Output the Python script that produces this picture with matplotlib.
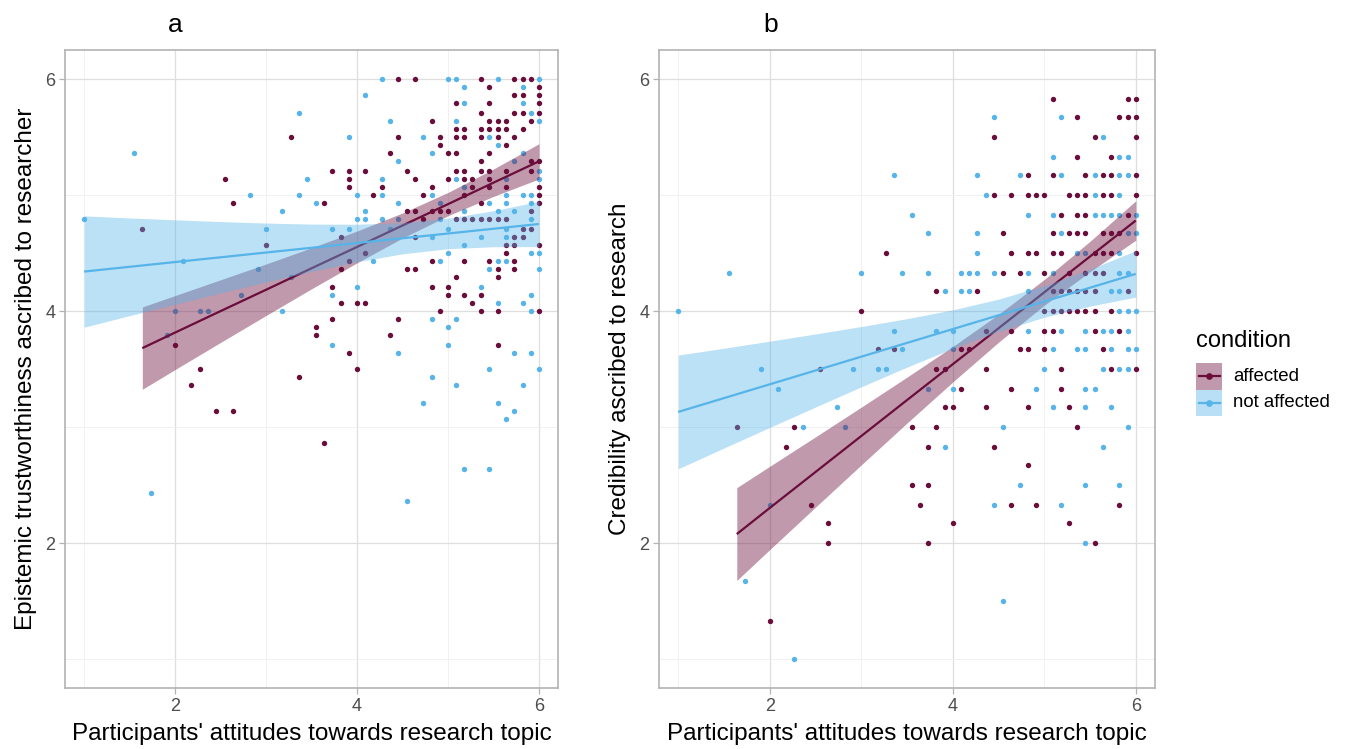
import matplotlib
matplotlib.use("Agg")
import matplotlib.pyplot as plt
from matplotlib.patches import Rectangle
from matplotlib.lines import Line2D

plt.rcParams['font.family'] = ['Liberation Sans', 'DejaVu Sans']

MAROON = '#6B0D3B'
BLUE = '#56B4E9'

# ---------------- Panel a : affected ----------------
a_aff_x = [4.45, 4.64, 5.36, 5.73, 5.82, 5.91,
           5.45, 6.00,
           5.73, 5.82, 6.00,
           5.09, 5.45, 6.00,
           5.36, 5.73, 5.82, 6.00,
           4.82, 5.45, 5.55, 5.64, 5.91,
           5.09, 5.18, 5.36, 5.45, 5.55, 5.64, 5.82,
           3.27, 4.45, 4.91, 5.09, 5.18, 5.36, 5.55, 5.73,
           4.91, 5.64,
           4.36, 5.00, 5.09, 5.45,
           5.36, 5.91, 6.00,
           3.73, 3.91, 4.09, 4.55, 5.09, 5.18, 5.36, 5.45, 5.64, 5.91,
           2.55, 3.91, 4.64, 5.00, 5.18, 5.27, 5.45,
           3.91, 4.27, 4.82, 5.27, 5.45, 5.64, 6.00,
           4.18, 4.73, 5.18, 6.00,
           2.64, 3.64, 5.36, 6.00,
           4.55, 4.64, 4.82, 4.91, 5.00, 5.91,
           4.73, 5.09, 5.18, 5.27, 5.36, 5.45, 5.55, 5.64,
           1.64, 5.82, 5.91,
           3.82, 4.64, 5.73, 5.82,
           3.00, 5.64, 5.73, 6.00,
           4.09, 5.64,
           3.91, 4.82, 5.18, 5.45, 5.73,
           3.82, 4.55, 4.64, 5.55, 5.73,
           5.09, 5.55,
           3.73, 4.82, 5.00,
           5.00, 5.18, 5.36,
           3.82, 4.00, 4.09, 5.27,
           4.91, 5.36, 5.55, 6.00,
           3.73, 4.45,
           3.55,
           3.55, 4.36,
           2.00, 5.55,
           3.91,
           2.27, 4.00,
           3.36,
           2.18,
           2.45, 2.64,
           3.64]
a_aff_y = [6.00] * 6 + [5.93] * 2 + [5.86] * 3 + [5.79] * 3 + [5.71] * 4 + \
          [5.64] * 5 + [5.57] * 7 + [5.50] * 8 + [5.43] * 2 + [5.36] * 4 + \
          [5.29] * 3 + [5.21] * 10 + [5.14] * 7 + [5.07] * 7 + [5.00] * 4 + \
          [4.93] * 4 + [4.86] * 6 + [4.79] * 8 + [4.71] * 3 + [4.64] * 4 + \
          [4.57] * 4 + [4.50] * 2 + [4.43] * 5 + [4.36] * 5 + [4.29] * 2 + \
          [4.21] * 3 + [4.14] * 3 + [4.07] * 4 + [4.00] * 4 + [3.93] * 2 + \
          [3.86] * 1 + [3.79] * 2 + [3.71] * 2 + [3.64] * 1 + [3.50] * 2 + \
          [3.43] * 1 + [3.36] * 1 + [3.14] * 2 + [2.86] * 1

# ---------------- Panel a : not affected ----------------
a_not_x = [4.27, 5.00, 5.09, 5.55, 6.00,
           5.18, 5.82,
           4.09,
           5.18, 5.82,
           3.36, 5.91,
           4.36, 5.09, 6.00,
           3.91, 4.73, 5.45,
           5.55,
           1.55, 4.82, 5.82,
           4.45, 5.73,
           6.00,
           3.45, 4.27, 5.09, 5.64, 6.00,
           5.18,
           2.82, 3.36, 4.00, 4.27, 4.82, 5.64, 5.82, 5.91,
           3.55, 4.45, 4.91, 5.45, 5.64, 5.91,
           3.18, 4.09, 5.18, 5.55, 5.73,
           1.00, 4.00, 4.09, 4.27, 4.45, 4.91, 5.91,
           3.00, 3.73, 3.91, 4.36, 5.00, 5.64,
           4.82, 5.36, 5.64,
           5.18,
           5.00, 5.91, 6.00,
           2.09, 4.18, 4.91, 5.55, 5.64,
           2.91, 5.45, 6.00,
           3.27,
           4.00, 5.36,
           2.73, 3.73, 5.91,
           5.55, 5.82,
           2.00, 2.27, 2.36, 3.18, 5.91,
           4.82, 5.09,
           5.00,
           1.91,
           3.73, 5.00,
           4.45, 5.73, 5.91,
           5.45, 6.00,
           4.82,
           5.09, 5.82,
           4.73, 5.55,
           5.73,
           5.64,
           5.18, 5.45,
           1.73,
           4.55]
a_not_y = [6.00] * 5 + [5.93] * 2 + [5.86] * 1 + [5.79] * 2 + [5.71] * 2 + \
          [5.64] * 3 + [5.50] * 3 + [5.43] * 1 + [5.36] * 3 + [5.29] * 2 + \
          [5.21] * 1 + [5.14] * 5 + [5.07] * 1 + [5.00] * 8 + [4.93] * 6 + \
          [4.86] * 5 + [4.79] * 7 + [4.71] * 6 + [4.64] * 3 + [4.57] * 1 + \
          [4.50] * 3 + [4.43] * 5 + [4.36] * 3 + [4.29] * 1 + [4.21] * 2 + \
          [4.14] * 3 + [4.07] * 2 + [4.00] * 5 + [3.93] * 2 + [3.86] * 1 + \
          [3.79] * 1 + [3.71] * 2 + [3.64] * 3 + [3.50] * 2 + [3.43] * 1 + \
          [3.36] * 2 + [3.21] * 2 + [3.14] * 1 + [3.07] * 1 + [2.64] * 2 + \
          [2.43] * 1 + [2.36] * 1

# ---------------- Panel b : affected ----------------
b_aff_x = [5.09, 5.91, 6.00,
           5.36, 5.82, 5.91, 6.00,
           4.45, 5.55, 6.00,
           5.36, 5.73,
           4.82, 5.09, 5.45, 5.64, 5.73, 6.00,
           4.45, 4.64, 4.82, 4.91, 5.00, 5.27, 5.36, 5.45, 5.64, 5.73, 6.00,
           5.18, 5.36, 5.45, 5.91,
           4.55, 5.09, 5.27, 5.36, 5.45, 5.64, 5.73, 5.82,
           3.27, 4.64, 4.82, 4.91, 5.09, 5.18, 5.55, 5.64, 5.73, 6.00,
           4.55, 4.73, 5.00, 5.27, 5.45, 5.55, 5.64,
           3.82, 4.27, 5.09, 5.18, 5.27, 5.36, 5.45, 5.55, 5.91,
           3.00, 5.00, 5.09, 5.18, 5.27, 5.36, 5.45, 5.55, 5.73,
           4.36, 4.64, 5.00, 5.09, 5.55, 5.82,
           3.18, 3.36, 4.09, 4.18, 4.73, 4.82, 5.00, 5.64,
           2.55, 3.82, 3.91, 4.36, 5.18, 5.73, 6.00,
           4.09, 4.64, 5.18,
           3.91, 4.00, 4.36, 4.82, 5.27,
           1.64, 2.27, 3.55, 3.82, 5.36,
           2.18, 3.73, 4.45,
           4.82,
           3.55, 3.73,
           2.45, 3.64, 4.64, 4.91, 5.82,
           2.64, 4.00, 5.27,
           2.64, 3.73, 5.55,
           2.00]
b_aff_y = [5.83] * 3 + [5.67] * 4 + [5.50] * 3 + [5.33] * 2 + [5.17] * 6 + \
          [5.00] * 11 + [4.83] * 4 + [4.67] * 8 + [4.50] * 10 + [4.33] * 7 + \
          [4.17] * 9 + [4.00] * 9 + [3.83] * 6 + [3.67] * 8 + [3.50] * 7 + \
          [3.33] * 3 + [3.17] * 5 + [3.00] * 5 + [2.83] * 3 + [2.67] * 1 + \
          [2.50] * 2 + [2.33] * 5 + [2.17] * 3 + [2.00] * 3 + [1.33] * 1

# ---------------- Panel b : not affected ----------------
b_not_x = [4.45, 5.18,
           5.64,
           5.09, 5.82, 5.91,
           3.36, 4.27, 4.73, 5.18, 5.55, 5.82, 5.91,
           4.36, 5.55, 5.82,
           3.55, 4.82, 5.09, 5.55, 5.64, 5.73, 5.82, 6.00,
           3.73, 4.27, 5.18, 5.91, 6.00,
           4.27, 5.36, 5.45, 5.82,
           1.55, 3.00, 3.45, 3.73, 4.09, 4.18, 4.27, 4.45, 4.82, 5.09, 5.82, 5.91,
           3.91, 4.09, 4.18, 4.82, 5.73, 5.82,
           1.00, 5.82, 5.91, 6.00,
           3.36, 3.82, 4.00, 4.82, 5.18, 5.45, 5.64, 5.73, 5.91,
           3.45, 4.00, 5.09, 5.36, 5.45, 5.73, 5.91, 6.00,
           1.91, 2.91, 3.18, 3.27, 5.00, 5.64, 5.82, 5.91,
           2.09, 3.73, 4.00, 4.91, 5.45, 5.55,
           2.73, 5.09, 5.45, 5.73,
           2.36, 2.82, 4.55, 5.91,
           3.91, 5.64,
           4.73, 5.45, 5.82,
           2.00, 4.45, 5.18,
           5.45,
           1.73,
           4.55,
           2.27]
b_not_y = [5.67] * 2 + [5.50] * 1 + [5.33] * 3 + [5.17] * 7 + [5.00] * 3 + \
          [4.83] * 8 + [4.67] * 5 + [4.50] * 4 + [4.33] * 12 + [4.17] * 6 + \
          [4.00] * 4 + [3.83] * 9 + [3.67] * 8 + [3.50] * 8 + [3.33] * 6 + \
          [3.17] * 4 + [3.00] * 4 + [2.83] * 2 + [2.50] * 3 + [2.33] * 3 + \
          [2.00] * 1 + [1.67] * 1 + [1.50] * 1 + [1.00] * 1

# ---------------- fitted lines with 95% bands ----------------
aff_fit_x = [1.64, 2.0, 2.5, 3.0, 3.5, 4.0, 4.5, 5.0, 5.5, 6.0]
not_fit_x = [1.0, 1.5, 2.0, 2.5, 3.0, 3.5, 4.0, 4.5, 5.0, 5.5, 6.0]

a_aff_fit = [3.680, 3.814, 3.999, 4.183, 4.368, 4.552, 4.737, 4.921, 5.106, 5.290]
a_aff_lo = [3.325, 3.495, 3.729, 3.961, 4.191, 4.415, 4.629, 4.821, 4.988, 5.138]
a_aff_hi = [4.035, 4.133, 4.269, 4.405, 4.545, 4.689, 4.845, 5.022, 5.224, 5.442]

a_not_fit = [4.340, 4.381, 4.422, 4.463, 4.504, 4.545, 4.586, 4.627, 4.668, 4.709, 4.750]
a_not_lo = [3.860, 3.960, 4.058, 4.155, 4.250, 4.341, 4.424, 4.493, 4.537, 4.554, 4.555]
a_not_hi = [4.820, 4.802, 4.786, 4.771, 4.758, 4.749, 4.748, 4.761, 4.800, 4.864, 4.945]

b_aff_fit = [2.077, 2.302, 2.612, 2.922, 3.232, 3.541, 3.851, 4.161, 4.470, 4.780]
b_aff_lo = [1.677, 1.943, 2.309, 2.673, 3.034, 3.388, 3.731, 4.050, 4.339, 4.610]
b_aff_hi = [2.477, 2.661, 2.915, 3.171, 3.430, 3.694, 3.971, 4.272, 4.601, 4.950]

b_not_fit = [3.130, 3.249, 3.368, 3.487, 3.606, 3.725, 3.844, 3.963, 4.082, 4.201, 4.320]
b_not_lo = [2.640, 2.819, 2.996, 3.172, 3.346, 3.516, 3.678, 3.824, 3.946, 4.042, 4.120]
b_not_hi = [3.620, 3.679, 3.740, 3.802, 3.866, 3.934, 4.010, 4.102, 4.218, 4.360, 4.520]

x_ticks = [2, 4, 6]
y_ticks = [2, 4, 6]
x_label = "Participants' attitudes towards research topic"
y_label_a = "Epistemic trustworthiness ascribed to researcher"
y_label_b = "Credibility ascribed to research"
legend_title = "condition"
legend_labels = ["affected", "not affected"]
panel_tags = ["a", "b"]

W, H = 1350, 749
fig = plt.figure(figsize=(W / 100, H / 100), dpi=100)


def px_axes(l, t, r, b):
    return fig.add_axes([l / W, 1 - b / H, (r - l) / W, (b - t) / H])


def draw_panel(ax, ax_, ay_, nx_, ny_, afit, alo, ahi, nfit, nlo, nhi, ylabel):
    ax.set_xlim(0.79, 6.21)
    ax.set_ylim(0.75, 6.25)
    ax.set_xticks(x_ticks)
    ax.set_yticks(y_ticks)
    ax.set_xticks([1, 3, 5], minor=True)
    ax.set_yticks([1, 3, 5], minor=True)
    ax.grid(which='major', color='#DEDEDE', lw=0.9)
    ax.grid(which='minor', color='#EFEFEF', lw=0.6)
    ax.set_axisbelow(True)
    for s in ax.spines.values():
        s.set_color('#B3B3B3')
        s.set_linewidth(1.2)
    ax.tick_params(which='major', length=4, width=0.9, color='#B3B3B3',
                   labelsize=13, labelcolor='#4D4D4D', pad=3)
    ax.tick_params(which='minor', length=0)
    ax.scatter(ax_, ay_, s=15, color=MAROON, lw=0, zorder=2)
    ax.scatter(nx_, ny_, s=15, color=BLUE, lw=0, zorder=2)
    ax.fill_between(aff_fit_x, alo, ahi, color=MAROON, alpha=0.42, lw=0, zorder=3)
    ax.plot(aff_fit_x, afit, color=MAROON, lw=1.6, zorder=3, solid_capstyle='butt')
    ax.fill_between(not_fit_x, nlo, nhi, color=BLUE, alpha=0.40, lw=0, zorder=4)
    ax.plot(not_fit_x, nfit, color=BLUE, lw=1.6, zorder=4, solid_capstyle='butt')
    ax.set_xlabel(x_label, fontsize=17.5, labelpad=6)
    ax.set_ylabel(ylabel, fontsize=17.5, labelpad=6)


axA = px_axes(65, 50, 558, 688)
axB = px_axes(659, 50, 1155, 688)
draw_panel(axA, a_aff_x, a_aff_y, a_not_x, a_not_y,
           a_aff_fit, a_aff_lo, a_aff_hi, a_not_fit, a_not_lo, a_not_hi, y_label_a)
draw_panel(axB, b_aff_x, b_aff_y, b_not_x, b_not_y,
           b_aff_fit, b_aff_lo, b_aff_hi, b_not_fit, b_not_lo, b_not_hi, y_label_b)

fig.text(175 / W, 1 - 25 / H, panel_tags[0], ha='center', va='center', fontsize=19)
fig.text(771 / W, 1 - 25 / H, panel_tags[1], ha='center', va='center', fontsize=19)

# legend (drawn like ggplot keys)
fig.text(1196 / W, 1 - 341 / H, legend_title, ha='left', va='center', fontsize=17)
for i, (col, lab) in enumerate(zip([MAROON, BLUE], legend_labels)):
    top = 363 + i * 26.5
    fig.add_artist(Rectangle((1196 / W, 1 - (top + 26.5) / H), 26 / W, 26.5 / H,
                             transform=fig.transFigure, facecolor=col,
                             alpha=0.42, lw=0))
    yc = 1 - (top + 13.25) / H
    fig.add_artist(Line2D([1198.5 / W, 1219.5 / W], [yc, yc], transform=fig.transFigure,
                          color=col, lw=1.6))
    fig.add_artist(Line2D([1209 / W], [yc], transform=fig.transFigure, color=col,
                          marker='o', markersize=3.8, lw=0))
    fig.text(1233 / W, yc, lab, ha='left', va='center', fontsize=13.4)

fig.savefig('out.png', dpi=100)
